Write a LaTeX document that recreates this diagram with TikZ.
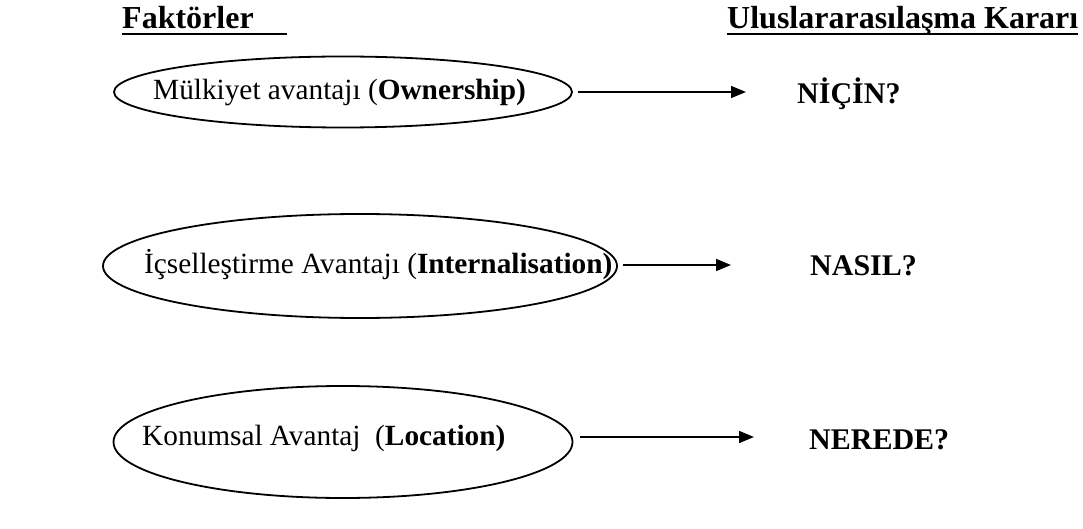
\documentclass[tikz,border=0pt]{standalone}
\usepackage{fontspec}
\setmainfont{Liberation Serif}
\usetikzlibrary{shapes.geometric,arrows.meta}
\begin{document}
\begin{tikzpicture}[x=1pt,y=-1pt,
  oval/.style={draw,line width=1.8pt,ellipse,inner sep=0pt},
  body/.style={inner sep=0pt,font=\fontsize{29.3}{35}\selectfont},
  head/.style={inner sep=0pt,font=\fontsize{32}{38}\selectfont\bfseries,anchor=base west},
  ans/.style={inner sep=0pt,font=\fontsize{30}{36}\selectfont\bfseries,anchor=west},
  conn/.style={line width=1.6pt,-{Triangle[length=15pt,width=12pt]}}]
\useasboundingbox (0,0) rectangle (1083,529);
% headers
\node[head] (hf) at (122,29) {Faktörler};
\node[head] (hu) at (727,29) {Uluslararasılaşma Kararı};
\coordinate (hfe) at (287,34);
\draw[line width=2.5pt] ([yshift=-5pt]hf.base west) -- (hfe);
\draw[line width=2.5pt] ([yshift=-5pt]hu.base west) -- ([yshift=-5pt]hu.base east);
% ellipses
\node[oval,minimum width=458pt,minimum height=71pt] (e1) at (343,92) {};
\node[oval,minimum width=514pt,minimum height=104pt] (e2) at (360,266) {};
\node[oval,minimum width=459pt,minimum height=112pt] (e3) at (343,442) {};
% texts
\node[body,anchor=west] (t1) at (153,92) {Mülkiyet avantajı (\textbf{Ownership)}};
\node[body,anchor=west] (t2) at (144,265) {İçselleştirme Avantajı (\textbf{Internalisation)}};
\node[body,anchor=west] (t3) at (142,438) {Konumsal Avantaj\ \ (\textbf{Location)}};
% answers
\node[ans] (a1) at (797,94) {NİÇİN?};
\node[ans] (a2) at (810,266) {NASIL?};
\node[ans] (a3) at (809,440) {NEREDE?};
% arrows
\coordinate (c1) at (746,92);
\coordinate (c2) at (731,265);
\coordinate (c3) at (754,437);
\draw[conn] (e1.east) ++(5,0) -- (c1);
\draw[conn] (e2.east) ++(5,-1) -- (c2);
\draw[conn] (e3.east) ++(7,-5) -- (c3);
\end{tikzpicture}
\end{document}
